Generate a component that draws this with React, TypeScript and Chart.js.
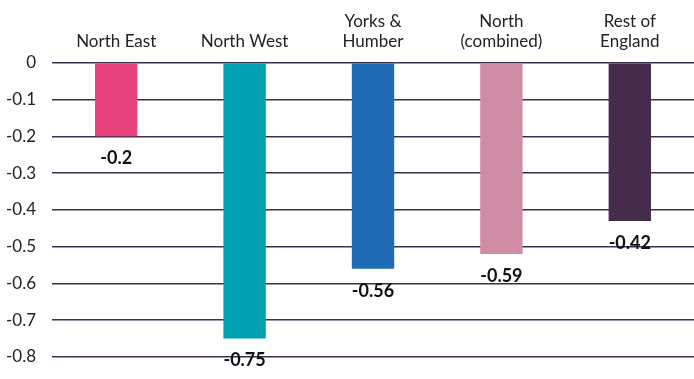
import React, { useEffect, useRef } from "react";
import { Chart, registerables } from "chart.js";

Chart.register(...registerables);

const categories: string[][] = [
  ["North East"],
  ["North West"],
  ["Yorks &", "Humber"],
  ["North", "(combined)"],
  ["Rest of", "England"],
];
const barValues: number[] = [-0.2, -0.75, -0.56, -0.52, -0.43];
const valueLabels: string[] = ["-0.2", "-0.75", "-0.56", "-0.59", "-0.42"];
const barColors: string[] = ["#e8437e", "#00a0b0", "#1f6bb5", "#d08ba5", "#452c4d"];

const FONT = "Lato, 'Open Sans', sans-serif";

const valueLabelPlugin = {
  id: "valueLabels",
  afterDatasetsDraw(chart: any) {
    const ctx = chart.ctx;
    const meta = chart.getDatasetMeta(0);
    ctx.save();
    ctx.font = `bold 18px ${FONT}`;
    ctx.fillStyle = "#111111";
    ctx.textAlign = "center";
    ctx.textBaseline = "middle";
    meta.data.forEach((bar: any, i: number) => {
      ctx.fillText(valueLabels[i], bar.x, bar.y + 22);
    });
    ctx.restore();
  },
};

export default function App() {
  const ref = useRef<HTMLCanvasElement | null>(null);
  useEffect(() => {
    document.body.style.margin = "0";
    if (!ref.current) return;
    const chart = new Chart(ref.current, {
      type: "bar",
      data: {
        labels: categories,
        datasets: [
          {
            data: barValues,
            backgroundColor: barColors,
            borderWidth: 0,
            barPercentage: 0.33,
            categoryPercentage: 1,
          },
        ],
      },
      options: {
        animation: false,
        responsive: false,
        layout: { padding: { top: 0, bottom: 22, left: 0, right: 0 } },
        plugins: { legend: { display: false }, tooltip: { enabled: false } },
        scales: {
          x: {
            position: "top",
            grid: { display: false, drawTicks: false },
            border: { display: false },
            ticks: {
              color: "#222222",
              font: { family: FONT, size: 17 },
              padding: 11,
              maxRotation: 0,
              autoSkip: false,
            },
          },
          y: {
            min: -0.8,
            max: 0,
            afterFit: (scale: any) => {
              scale.width = 52;
              scale.paddingTop = 0;
              scale.paddingBottom = 0;
            },
            grid: { color: "#3f2d4e", lineWidth: 1.5, drawTicks: false },
            border: { display: false },
            ticks: {
              stepSize: 0.1,
              color: "#222222",
              font: { family: FONT, size: 17 },
              padding: 16,
              callback: (v: any) => {
                const n = Math.round(Number(v) * 10) / 10;
                return n === 0 ? "0" : String(n);
              },
            },
          },
        },
      },
      plugins: [valueLabelPlugin],
    });
    return () => chart.destroy();
  }, []);
  return (
    <div style={{ width: 694, height: 379 }}>
      <canvas ref={ref} width={694} height={379} style={{ display: "block" }} />
    </div>
  );
}
